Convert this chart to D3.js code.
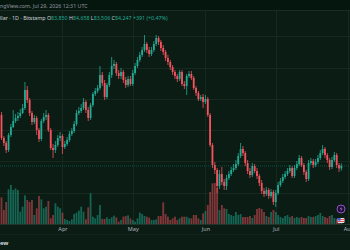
<!DOCTYPE html>
<html><head><meta charset="utf-8">
<script src="https://cdn.jsdelivr.net/npm/d3@7"></script>
<style>html,body{margin:0;padding:0;background:#0a1c13;overflow:hidden}</style>
</head><body>
<svg id="c" width="350" height="250"></svg>
<script>
// ---- data (BTC/USD daily, Bitstamp) ----
const firstDay = [2026, 2, 6]; // Mar 6, 2026
const opens = [92400,88720,87920,86800,89200,90480,91440,91920,92240,92720,93520,96400,94800,92720,91280,91920,90000,88560,91440,92080,92400,90000,87120,86800,87600,88720,89040,87280,87760,88400,89360,89840,90960,92720,93040,93520,94480,93200,91920,94000,95760,96240,96720,98800,97520,95280,97200,98800,100240,100560,99120,98640,99280,98000,97200,98160,97360,99120,100240,101200,102000,102800,103760,102800,102160,102800,103760,104720,104080,103120,102480,101520,100880,100080,99280,98640,98160,99280,97360,97040,98640,98960,98320,96720,95920,94960,95280,94480,94960,92400,87600,84400,83600,81040,82960,81680,81040,82320,82960,83600,83920,84560,85840,86960,86320,84720,83440,82800,84240,83440,82640,81520,80240,79760,80400,79440,80080,78480,79920,81200,81840,82480,82960,83440,83920,82640,83920,84560,85520,84400,83280,82160,84720,85040,84400,84880,85520,86320,86960,86000,85200,84080,85200,86000,84400,83850];
const highs = [92880,89040,88240,89520,90960,93200,92560,92880,93360,94160,97680,97040,95120,93040,92400,92240,90320,91760,92720,93200,92720,90320,87760,88240,89200,89680,89360,88240,88880,89840,90320,91440,93200,93680,94160,95120,94800,93680,94320,96080,96720,97200,100240,99280,98000,97520,99280,101680,101200,100880,99600,99920,99600,98480,98640,98640,99600,100720,101680,102480,103280,105200,104080,103280,103280,104240,105200,105040,104400,103600,102800,102000,101200,100400,99600,98960,99600,99600,97840,98960,99440,99440,98640,97040,96240,95600,95760,95600,95280,92720,87920,84880,83920,83600,84080,82160,82800,83440,84080,84560,85200,86320,87920,87440,86640,85200,83920,84720,84560,83920,82960,82000,80720,80880,80720,80560,80400,80400,81680,82320,82960,83440,83920,84400,84240,84400,85040,86000,85840,84720,83600,85200,85520,85360,85360,86000,86800,87600,87280,86320,85520,85680,86480,86320,84720,84658];
const lows = [88400,87440,86320,86480,88880,90320,91120,91440,91920,92560,93200,94320,92240,90800,90960,89200,88080,88240,91120,91600,89680,86800,85520,86320,87280,88240,86160,86960,87440,88080,89040,89520,90640,92400,92720,93200,92720,91440,91600,93680,95440,95920,96400,97040,94800,94960,96880,98320,99760,98640,98160,98160,97520,96720,96880,97040,97040,98800,99920,100880,101680,102480,102320,101680,101840,102480,103440,103600,102640,102000,101040,100400,99600,98800,98160,97680,97840,97040,96560,95600,98320,98000,96400,95440,94640,94640,93520,94160,92080,87280,83920,82960,79920,80560,81200,80400,80400,82000,82640,83280,83600,84240,85520,85840,84240,82960,82320,82480,83120,82160,81040,79760,79280,79440,78960,79120,78000,77680,79600,80880,81520,82160,82640,83120,82320,82320,83600,84240,84080,82800,81680,81840,84400,83920,84080,84560,85200,86000,85520,84720,83600,83760,84880,83920,83280,83506];
const closes = [88720,87920,86800,89200,90480,91440,91920,92240,92720,93520,96400,94800,92720,91280,91920,90000,88560,91440,92080,92400,90000,87120,86800,87600,88720,89040,87280,87760,88400,89360,89840,90960,92720,93040,93520,94480,93200,91920,94000,95760,96240,96720,98800,97520,95280,97200,98800,100240,100560,99120,98640,99280,98000,97200,98160,97360,99120,100240,101200,102000,102800,103760,102800,102160,102800,103760,104720,104080,103120,102480,101520,100880,100080,99280,98640,98160,99280,97360,97040,98640,98960,98320,96720,95920,94960,95280,94480,94960,92400,87600,84400,83600,81040,82960,81680,81040,82320,82960,83600,83920,84560,85840,86960,86320,84720,83440,82800,84240,83440,82640,81520,80240,79760,80400,79440,80080,78480,79920,81200,81840,82480,82960,83440,83920,82640,83920,84560,85520,84400,83280,82160,84720,85040,84400,84880,85520,86320,86960,86000,85200,84080,85200,86000,84400,83856,84247];
const volumes = [1600,840,1320,2080,2340,2040,2140,2040,740,1040,1720,1440,1320,1440,540,940,1680,1480,940,1040,1380,340,540,1240,1040,940,680,300,240,180,280,600,680,800,1040,740,280,1000,1840,440,340,540,1140,300,300,400,300,400,500,400,140,240,440,480,520,340,240,140,340,680,600,480,440,380,240,240,280,480,480,1300,600,440,240,340,440,240,340,440,440,440,360,340,540,540,340,240,640,780,1140,1920,2440,2460,2160,840,1140,940,900,600,540,480,720,540,600,420,420,420,480,360,540,900,960,900,720,480,420,720,840,720,540,420,360,480,540,420,480,360,420,360,420,360,360,480,420,420,480,540,660,480,420,360,480,540,360,300,300,180];
const monthTicks = [[2026,3,1],[2026,4,1],[2026,5,1],[2026,6,1],[2026,7,1]];
const monthLabels = ["Apr","May","Jun","Jul","Aug"];
const priceGrid = [80000,85000,90000,95000,100000,105000];
const headerLine1 = "Published on TradingView.com, Jul 29, 2026 12:31 UTC";
const symbolTitle = "Bitcoin / U.S. Dollar · 1D · Bitstamp";
const ohlcLabels = ["O","H","L","C"];
const ohlcValues = ["83,850","84,658","83,506","84,247"];
const changeText = "+391 (+0.47%)";
const brandText = "TradingView";

// ---- styles ----
const UP = "#22ab94", DOWN = "#f7525f";
const W = 350, H = 250, plotTop = 10.5, plotBottom = 224;
const FONT = "'Noto Sans', Roboto, sans-serif";

const svg = d3.select("#c");
const days = closes.map((_, i) => new Date(firstDay[0], firstDay[1], firstDay[2] + i));

const x = d3.scaleTime()
  .domain([new Date(2026, 2, 6), new Date(2026, 7, 1)])
  .range([1.5, 1.5 + 2.344 * 148]);
const y = d3.scaleLinear().domain([74960, 109040]).range([224, 11]);
const vy = d3.scaleLinear().domain([0, 3000]).range([plotBottom, plotBottom - 50]);

// background
svg.append("rect").attr("width", W).attr("height", H).attr("fill", "#0a1c13");
svg.append("rect").attr("width", W).attr("height", plotTop).attr("fill", "#05160e");

// grid
const grid = svg.append("g").attr("stroke", "#15291f").attr("stroke-width", 1);
grid.selectAll("line.h").data(priceGrid).join("line")
  .attr("x1", 0).attr("x2", W)
  .attr("y1", d => Math.round(y(d)) + 0.5).attr("y2", d => Math.round(y(d)) + 0.5);
const tickDates = monthTicks.map(d => new Date(d[0], d[1], d[2]));
grid.selectAll("line.v").data(tickDates).join("line")
  .attr("y1", plotTop).attr("y2", plotBottom)
  .attr("x1", d => Math.round(x(d)) + 0.5).attr("x2", d => Math.round(x(d)) + 0.5);
svg.append("line").attr("x1", 0).attr("x2", W).attr("y1", plotTop).attr("y2", plotTop)
  .attr("stroke", "#1a2d23");

// volume
const bw = 1.8;
svg.append("g").selectAll("rect").data(volumes).join("rect")
  .attr("x", (d, i) => x(days[i]) - bw / 2)
  .attr("width", bw)
  .attr("y", d => vy(d))
  .attr("height", d => plotBottom - vy(d))
  .attr("fill", (d, i) => closes[i] >= opens[i] ? UP : DOWN)
  .attr("opacity", 0.5);

// candles
const cg = svg.append("g");
const candles = cg.selectAll("g").data(closes).join("g")
  .attr("fill", (d, i) => closes[i] >= opens[i] ? UP : DOWN)
  .attr("stroke", (d, i) => closes[i] >= opens[i] ? UP : DOWN);
candles.append("line")
  .attr("x1", (d, i) => x(days[i])).attr("x2", (d, i) => x(days[i]))
  .attr("y1", (d, i) => y(highs[i])).attr("y2", (d, i) => y(lows[i]))
  .attr("stroke-width", 0.8);
candles.append("rect")
  .attr("stroke", "none")
  .attr("x", (d, i) => x(days[i]) - bw / 2).attr("width", bw)
  .attr("y", (d, i) => y(Math.max(opens[i], closes[i])))
  .attr("height", (d, i) => Math.max(0.8, Math.abs(y(opens[i]) - y(closes[i]))));

// last price line
const lastClose = closes[closes.length - 1];
svg.append("line").attr("x1", 0).attr("x2", W)
  .attr("y1", y(lastClose)).attr("y2", y(lastClose))
  .attr("stroke", UP).attr("stroke-opacity", 0.45).attr("stroke-dasharray", "1,1").attr("stroke-width", 0.8);

// axis
svg.append("line").attr("x1", 0).attr("x2", W).attr("y1", plotBottom + 0.5).attr("y2", plotBottom + 0.5)
  .attr("stroke", "#1f3329");
svg.append("line").attr("x1", 0).attr("x2", W).attr("y1", 234.5).attr("y2", 234.5)
  .attr("stroke", "#10241a");
const xAxis = d3.axisBottom(x).tickValues(tickDates)
  .tickFormat((d, i) => monthLabels[i]).tickSize(0).tickPadding(3);
const ax = svg.append("g").attr("transform", `translate(0,${plotBottom})`).call(xAxis);
ax.select(".domain").remove();
ax.selectAll("text").attr("fill", "#b2b5be").attr("font-size", 5.5).attr("font-family", FONT);

// header
function prefixWidth(str, size, weight) {
  const t = svg.append("text").attr("font-size", size).attr("font-family", FONT)
    .attr("font-weight", weight || 400).text(str);
  const w = t.node().getComputedTextLength(); t.remove(); return w;
}
const fs = 5.3;
svg.append("text").attr("x", -prefixWidth("Published on Tradi", fs)).attr("y", 8)
  .attr("font-size", fs).attr("font-family", FONT).attr("fill", "#9598a1").text(headerLine1);

const l2 = svg.append("text").attr("x", -prefixWidth("Bitcoin / U.S. Do", fs)).attr("y", 20)
  .attr("font-size", fs).attr("font-family", FONT);
l2.append("tspan").attr("fill", "#d1d4dc").text(symbolTitle + " ");
ohlcLabels.forEach((lab, i) => {
  l2.append("tspan").attr("fill", "#d1d4dc").text(lab);
  l2.append("tspan").attr("fill", UP).text(ohlcValues[i] + " ");
});
l2.append("tspan").attr("fill", UP).text(changeText);

// brand
svg.append("text").attr("x", 8.5).attr("y", 245).attr("text-anchor", "end")
  .attr("font-size", 6).attr("font-weight", 700).attr("font-family", FONT)
  .attr("fill", "#d1d4dc").text(brandText);

// event icons
svg.append("circle").attr("cx", 341).attr("cy", 209).attr("r", 4).attr("fill", "#1a1030")
  .attr("stroke", "#9c4dcc").attr("stroke-width", 1);
svg.append("path").attr("d", "M341.8,206 L339.8,209.3 L341.4,209.3 L340.4,212 L342.5,208.5 L340.9,208.5 Z")
  .attr("fill", "#b07ce0");
svg.append("rect").attr("x", 337.5).attr("y", 218).attr("width", 7).attr("height", 5).attr("rx", 1).attr("fill", "#e8e8f0");
svg.append("rect").attr("x", 337.5).attr("y", 218).attr("width", 3.2).attr("height", 2.6).attr("fill", "#3b5bdb");
svg.append("rect").attr("x", 340.7).attr("y", 219).attr("width", 3.8).attr("height", 0.8).attr("fill", "#e03131");
svg.append("rect").attr("x", 337.5).attr("y", 221).attr("width", 7).attr("height", 0.8).attr("fill", "#e03131");
</script>
</body></html>
